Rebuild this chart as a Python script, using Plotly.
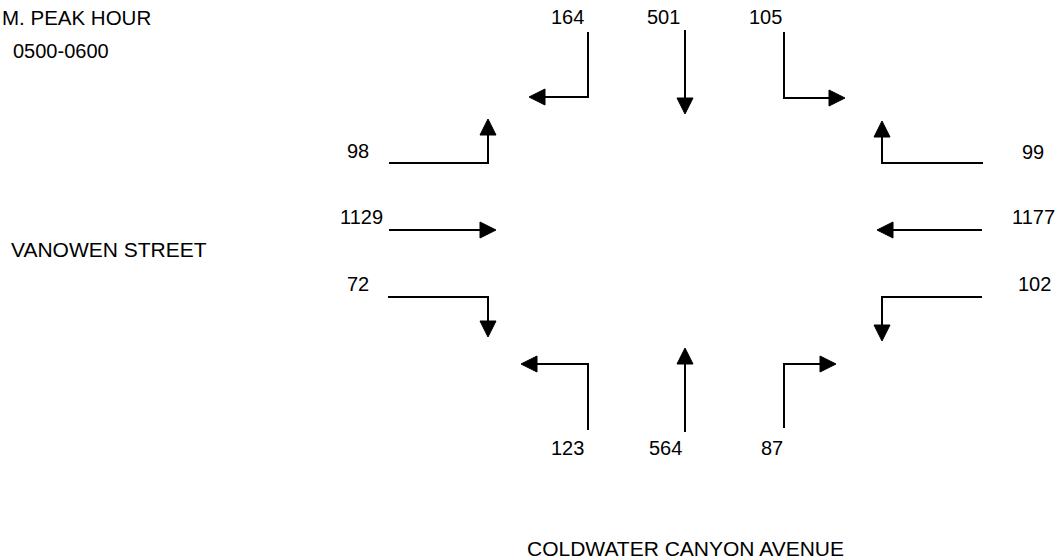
import plotly.graph_objects as go

# ---------------- data ----------------
approaches = ["SB", "EB", "WB", "NB"]
sb_volumes = [164, 501, 105]      # top approach, listed west->east
eb_volumes = [98, 1129, 72]       # west approach, top->bottom
wb_volumes = [99, 1177, 102]      # east approach, top->bottom
nb_volumes = [123, 564, 87]       # bottom approach, west->east
title_lines = ["M. PEAK HOUR", "0500-0600"]
street_ew = "VANOWEN STREET"
street_ns = "COLDWATER CANYON AVENUE"

# ---------------- geometry (pixel layout of the diagram) ----------------
W, H = 1058, 559
paths = {
    "SB": [[(588, 32), (588, 97), (529, 97)],
           [(685, 30), (685, 114)],
           [(784, 32), (784, 98), (845, 98)]],
    "EB": [[(389, 163), (488, 163), (488, 119)],
           [(389, 230), (496, 230)],
           [(388, 297), (488, 297), (488, 337)]],
    "WB": [[(983, 163), (882, 163), (882, 121)],
           [(982, 230), (877, 230)],
           [(982, 297), (882, 297), (882, 341)]],
    "NB": [[(588, 430), (588, 364), (521, 364)],
           [(685, 432), (685, 348)],
           [(784, 428), (784, 364), (836, 364)]],
}
label_pos = {
    "SB": [(567, 17), (663, 17), (765, 17)],
    "EB": [(358, 151), (361, 217), (358, 284)],
    "WB": [(1033, 152), (1033, 217), (1034, 284)],
    "NB": [(567, 448), (665, 448), (772, 448)],
}
volumes = {"SB": sb_volumes, "EB": eb_volumes, "WB": wb_volumes, "NB": nb_volumes}

HEAD_L, HEAD_W = 16, 8
FAMILY = "Arial, Liberation Sans, sans-serif"
FONT = dict(family=FAMILY, size=20, color="black")

fig = go.Figure()
shapes = []
annotations = []

for ap in approaches:
    for pts, vol, (lx, ly) in zip(paths[ap], volumes[ap], label_pos[ap]):
        (x1, y1), (tx, ty) = pts[-2], pts[-1]
        dx, dy = tx - x1, ty - y1
        n = (dx * dx + dy * dy) ** 0.5
        ux, uy = dx / n, dy / n
        bx, by = tx - HEAD_L * ux, ty - HEAD_L * uy
        px, py = -uy, ux
        line_pts = pts[:-1] + [(bx + ux, by + uy)]
        fig.add_trace(go.Scatter(
            x=[p[0] for p in line_pts], y=[p[1] for p in line_pts],
            mode="lines", line=dict(color="black", width=2),
            hoverinfo="skip", showlegend=False))
        c1 = (bx + HEAD_W * px, by + HEAD_W * py)
        c2 = (bx - HEAD_W * px, by - HEAD_W * py)
        shapes.append(dict(
            type="path", xref="x", yref="y",
            path=f"M {tx},{ty} L {c1[0]},{c1[1]} L {c2[0]},{c2[1]} Z",
            fillcolor="black", line=dict(color="black", width=1)))
        annotations.append(dict(x=lx, y=ly, xref="x", yref="y", text=str(vol),
                                showarrow=False, font=FONT,
                                xanchor="center", yanchor="middle"))

extra = [
    dict(x=0, y=17, text=title_lines[0], xanchor="left", size=20.5),
    dict(x=11, y=51, text=title_lines[1], xanchor="left", size=20),
    dict(x=9, y=249, text=street_ew, xanchor="left", size=21),
    dict(x=685, y=548, text=street_ns, xanchor="center", size=21),
]
for a in extra:
    size = a.pop("size")
    a.update(xref="x", yref="y", showarrow=False, yanchor="middle",
             font=dict(family=FAMILY, size=size, color="black"))
    annotations.append(a)

fig.update_layout(
    width=W, height=H,
    margin=dict(l=0, r=0, t=0, b=0),
    paper_bgcolor="white", plot_bgcolor="white",
    xaxis=dict(range=[0, W], visible=False, fixedrange=True),
    yaxis=dict(range=[H, 0], visible=False, fixedrange=True),
    shapes=shapes, annotations=annotations,
)
fig.write_html("out.html", config={"displayModeBar": False},
               post_script="document.body.style.margin='0';document.body.style.overflow='hidden';")
